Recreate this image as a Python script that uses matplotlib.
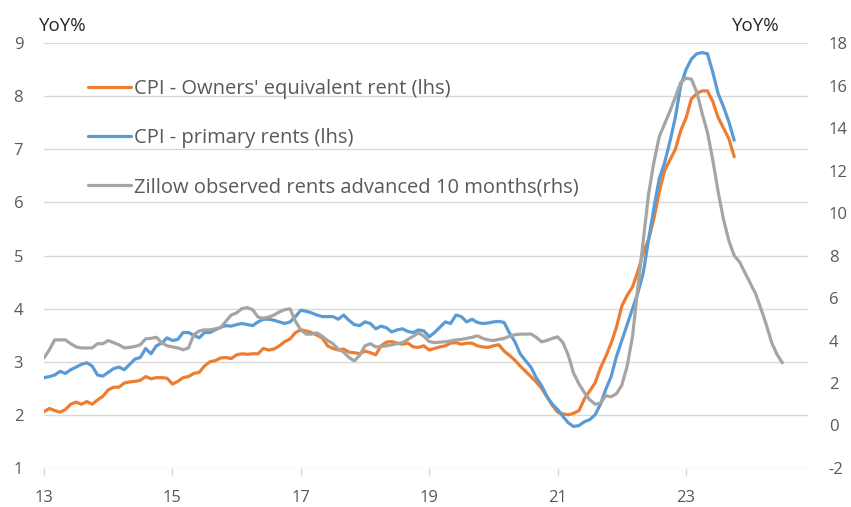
import numpy as np
import matplotlib
matplotlib.use("Agg")
import matplotlib.pyplot as plt

plt.rcParams['font.family'] = ['Open Sans', 'DejaVu Sans']
plt.rcParams['axes.unicode_minus'] = False

# monthly data, first point Jan 2013
start_year = 13

# CPI - Owners' equivalent rent, YoY% (lhs)
oer = [
    2.06, 2.12, 2.08, 2.05, 2.10, 2.20, 2.24, 2.20, 2.25, 2.20, 2.28, 2.35,
    2.47, 2.52, 2.52, 2.60, 2.62, 2.63, 2.65, 2.72, 2.68, 2.70, 2.70, 2.69,
    2.58, 2.63, 2.70, 2.72, 2.78, 2.80, 2.92, 3.00, 3.02, 3.07, 3.08, 3.06,
    3.13, 3.15, 3.14, 3.15, 3.15, 3.25, 3.22, 3.24, 3.30, 3.38, 3.43, 3.55,
    3.60, 3.58, 3.55, 3.50, 3.45, 3.30, 3.25, 3.22, 3.24, 3.18, 3.17, 3.15,
    3.20, 3.17, 3.13, 3.30, 3.37, 3.38, 3.35, 3.33, 3.35, 3.28, 3.27, 3.30,
    3.22, 3.25, 3.28, 3.30, 3.35, 3.36, 3.33, 3.35, 3.35, 3.30, 3.28, 3.27,
    3.30, 3.32, 3.20, 3.12, 3.03, 2.92, 2.82, 2.72, 2.62, 2.50, 2.34, 2.18,
    2.05, 2.02, 2.00, 2.03, 2.08, 2.30, 2.45, 2.60, 2.88, 3.10, 3.35, 3.65,
    4.05, 4.25, 4.41, 4.70, 5.05, 5.30, 5.70, 6.20, 6.60, 6.80, 7.00, 7.35,
    7.59, 7.95, 8.05, 8.10, 8.10, 7.90, 7.60, 7.40, 7.20, 6.86,
]

# CPI - primary rents, YoY% (lhs)
rents = [
    2.70, 2.72, 2.75, 2.82, 2.78, 2.85, 2.90, 2.95, 2.98, 2.92, 2.75, 2.73,
    2.80, 2.87, 2.90, 2.85, 2.95, 3.05, 3.08, 3.25, 3.15, 3.30, 3.35, 3.45,
    3.40, 3.42, 3.55, 3.55, 3.50, 3.45, 3.55, 3.55, 3.60, 3.65, 3.68, 3.67,
    3.70, 3.72, 3.70, 3.68, 3.75, 3.80, 3.80, 3.78, 3.75, 3.72, 3.75, 3.85,
    3.97, 3.95, 3.92, 3.88, 3.85, 3.85, 3.85, 3.80, 3.88, 3.78, 3.70, 3.68,
    3.75, 3.72, 3.62, 3.67, 3.64, 3.56, 3.60, 3.62, 3.57, 3.55, 3.60, 3.58,
    3.47, 3.55, 3.65, 3.75, 3.72, 3.88, 3.85, 3.75, 3.80, 3.74, 3.72, 3.73,
    3.75, 3.76, 3.74, 3.54, 3.38, 3.15, 3.02, 2.90, 2.70, 2.55, 2.35, 2.20,
    2.10, 1.97, 1.85, 1.78, 1.80, 1.87, 1.91, 2.00, 2.20, 2.48, 2.72, 3.10,
    3.40, 3.70, 4.00, 4.30, 4.67, 5.30, 5.90, 6.45, 6.75, 7.15, 7.60, 8.20,
    8.50, 8.70, 8.80, 8.82, 8.80, 8.45, 8.05, 7.80, 7.52, 7.17,
]

# Zillow observed rents advanced 10 months, YoY% (rhs)
zillow = [
    3.18, 3.56, 4.03, 4.03, 4.03, 3.85, 3.70, 3.65, 3.65, 3.65, 3.85, 3.85,
    4.00, 3.90, 3.80, 3.65, 3.68, 3.72, 3.80, 4.08, 4.10, 4.15, 3.90, 3.75,
    3.70, 3.65, 3.56, 3.65, 4.27, 4.45, 4.50, 4.50, 4.55, 4.60, 4.90, 5.20,
    5.30, 5.50, 5.55, 5.45, 5.10, 5.05, 5.10, 5.20, 5.35, 5.45, 5.49, 4.90,
    4.50, 4.30, 4.30, 4.36, 4.20, 4.00, 3.85, 3.60, 3.45, 3.20, 3.04, 3.30,
    3.75, 3.85, 3.70, 3.72, 3.75, 3.80, 3.85, 3.90, 4.05, 4.20, 4.36, 4.20,
    3.95, 3.90, 3.92, 3.94, 3.98, 4.03, 4.05, 4.10, 4.15, 4.22, 4.10, 4.03,
    4.00, 4.05, 4.10, 4.20, 4.27, 4.30, 4.30, 4.31, 4.15, 3.94, 4.00, 4.10,
    4.17, 3.90, 3.30, 2.45, 1.95, 1.55, 1.21, 1.00, 1.05, 1.40, 1.35, 1.50,
    1.90, 2.80, 4.20, 6.50, 8.70, 10.90, 12.40, 13.60, 14.20, 14.80, 15.45, 16.15,
    16.35, 16.30, 15.70, 14.70, 13.80, 12.50, 11.00, 9.70, 8.70, 8.00, 7.70, 7.20,
    6.70, 6.20, 5.50, 4.75, 3.90, 3.35, 2.95,
]

labels = ["CPI - Owners' equivalent rent (lhs)",
          "CPI - primary rents (lhs)",
          "Zillow observed rents advanced 10 months(rhs)"]
xticks = [13, 15, 17, 19, 21, 23]

def months(series):
    return start_year + np.arange(len(series)) / 12

txt = '#595959'
grid = '#d9d9d9'

fig = plt.figure(figsize=(8.51, 5.07), dpi=100)
ax = fig.add_axes([0.0517, 0.077, 0.8978, 0.838])
ax2 = ax.twinx()

l1, = ax.plot(months(oer), oer, color='#ED7D31', lw=2.3, solid_capstyle='round')
l2, = ax.plot(months(rents), rents, color='#5B9BD5', lw=2.3, solid_capstyle='round')
l3, = ax2.plot(months(zillow), zillow, color='#A5A5A5', lw=2.3, solid_capstyle='round')

ax.set_xlim(13, 24.9)
ax.set_ylim(1, 9)
ax2.set_ylim(-2, 18)
ax.set_yticks(range(1, 10))
ax2.set_yticks(range(-2, 19, 2))
ax.set_xticks(xticks)
ax.set_xticklabels([str(t) for t in xticks])

ax.grid(axis='y', color=grid, lw=1)
ax.set_axisbelow(True)
for a in (ax, ax2):
    for s in a.spines.values():
        s.set_visible(False)
ax.tick_params(axis='y', length=0, pad=15, labelsize=12, labelcolor=txt)
ax2.tick_params(axis='y', length=0, pad=15, labelsize=12, labelcolor=txt)
ax.tick_params(axis='x', length=6, color=grid, width=1, pad=10, labelsize=12, labelcolor=txt)

fig.text(0.046, 0.948, 'YoY%', fontsize=13.5, color='#262626', ha='left', va='center')
fig.text(0.860, 0.948, 'YoY%', fontsize=13.5, color='#262626', ha='left', va='center')

ax2.legend([l1, l2, l3], labels, loc='upper left', bbox_to_anchor=(0.034, 0.958),
           frameon=False, fontsize=14.5, labelcolor=txt, handlelength=2.15,
           handletextpad=0.12, labelspacing=1.45)

fig.savefig('out.png', dpi=100)
